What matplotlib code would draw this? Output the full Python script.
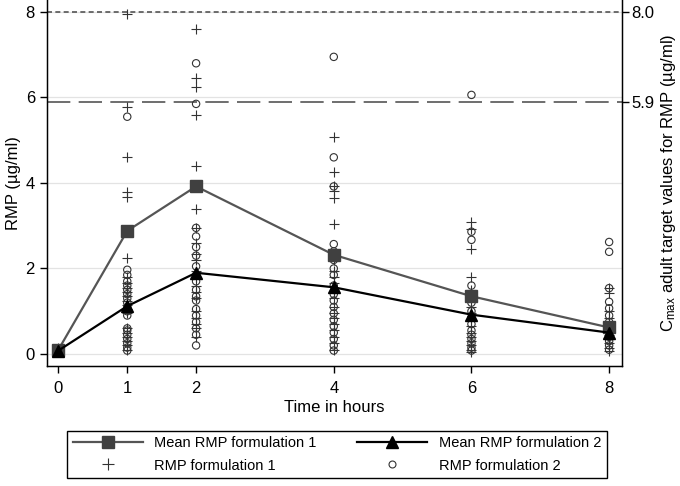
import matplotlib
matplotlib.use("Agg")
import matplotlib.pyplot as plt
import numpy as np

plt.rcParams['font.family'] = ['Liberation Sans', 'DejaVu Sans']
plt.rcParams['mathtext.default'] = 'regular'

# sampling times (hours)
times = [0, 1, 2, 4, 6, 8]

# mean concentrations
mean_f1 = [0.10, 2.88, 3.92, 2.32, 1.35, 0.62]
mean_f2 = [0.08, 1.12, 1.90, 1.56, 0.92, 0.50]

# individual concentrations, formulation 1 (crosses)
f1_points = {
    0: [0.05, 0.08, 0.10, 0.12, 0.15, 0.06, 0.10],
    1: [7.95, 5.78, 4.60, 3.80, 3.68, 2.25, 1.80, 1.65, 1.55, 1.45, 1.35, 1.25,
        1.15, 1.05, 0.95, 0.60, 0.50, 0.40, 0.30, 0.20, 0.10],
    2: [7.60, 6.45, 6.25, 5.60, 4.40, 3.40, 2.95, 2.60, 2.35, 2.20, 1.95, 1.80,
        1.60, 1.45, 1.30, 1.00, 0.85, 0.70, 0.60, 0.40],
    4: [5.07, 4.25, 3.92, 3.82, 3.65, 3.05, 2.35, 2.20, 1.95, 1.80, 1.65, 1.45,
        1.30, 1.10, 0.95, 0.85, 0.70, 0.55, 0.40, 0.25, 0.10],
    6: [3.08, 2.92, 2.45, 1.80, 1.50, 1.30, 1.10, 0.95, 0.80, 0.65, 0.50, 0.40,
        0.30, 0.20, 0.10, 0.05],
    8: [1.54, 1.42, 1.00, 0.85, 0.70, 0.55, 0.45, 0.35, 0.25, 0.15, 0.08],
}

# individual concentrations, formulation 2 (circles)
f2_points = {
    0: [0.05, 0.08, 0.10, 0.13, 0.07],
    1: [5.55, 1.97, 1.85, 1.70, 1.60, 1.50, 1.40, 1.30, 1.20, 1.10, 1.00, 0.90,
        0.60, 0.55, 0.45, 0.35, 0.25, 0.15, 0.08],
    2: [6.80, 5.85, 2.95, 2.75, 2.50, 2.30, 2.05, 1.85, 1.70, 1.50, 1.35, 1.25,
        1.05, 0.90, 0.75, 0.60, 0.45, 0.20],
    4: [6.95, 4.60, 3.92, 2.57, 2.40, 2.20, 2.00, 1.85, 1.60, 1.40, 1.25, 1.10,
        0.95, 0.80, 0.65, 0.50, 0.35, 0.20, 0.08],
    6: [6.06, 2.86, 2.67, 1.60, 1.40, 1.20, 1.00, 0.85, 0.70, 0.55, 0.45, 0.35,
        0.25, 0.15, 0.08],
    8: [2.62, 2.39, 1.54, 1.22, 1.07, 0.90, 0.75, 0.60, 0.50, 0.40, 0.30, 0.20, 0.10],
}

# adult Cmax target values
targets = [8.0, 5.9]
target_labels = ['8.0', '5.9']

fig = plt.figure(figsize=(6.8, 4.86), dpi=100)
ax = fig.add_axes([0.0687, 0.247, 0.8453, 0.753])

ax.set_xlim(-0.17, 8.18)
ax.set_ylim(-0.28, 8.28)

for g in [0, 2, 4, 6, 8]:
    ax.axhline(g, color='#e3e3e3', lw=0.9, zorder=0)

ax.axhline(targets[0], color='#555555', lw=1.2, ls=(0, (3, 2)), zorder=1)
ax.axhline(targets[1], color='#555555', lw=1.2, ls=(0, (14, 5)), zorder=1)

for t in times:
    ax.scatter([t] * len(f1_points[t]), f1_points[t], marker='+', s=50,
               color='#333333', linewidths=0.8, zorder=3)
    ax.scatter([t] * len(f2_points[t]), f2_points[t], marker='o', s=28,
               facecolors='none', edgecolors='#333333', linewidths=0.8, zorder=3)

l1, = ax.plot(times, mean_f1, color='#555555', lw=1.6, marker='s', ms=8,
              mfc='#404040', mec='#404040', zorder=4)
l2, = ax.plot(times, mean_f2, color='black', lw=1.6, marker='^', ms=8,
              mfc='black', mec='black', zorder=4)

ax.set_xticks(times)
ax.set_yticks([0, 2, 4, 6, 8])
ax.tick_params(axis='both', labelsize=12, length=5, width=1, direction='out')
ax.tick_params(axis='x', pad=6)
ax.set_xlabel('Time in hours', fontsize=12, labelpad=3)
ax.set_ylabel('RMP (µg/ml)', fontsize=12, labelpad=3)

ax.spines['top'].set_visible(False)
for s in ['left', 'bottom', 'right']:
    ax.spines[s].set_linewidth(1.0)

ax2 = ax.twinx()
ax2.set_ylim(ax.get_ylim())
ax2.set_yticks(targets)
ax2.set_yticklabels(target_labels)
ax2.tick_params(axis='y', labelsize=12, length=5, width=1, pad=2)
ax2.spines['top'].set_visible(False)
ax2.set_ylabel('C$_{max}$ adult target values for RMP (µg/ml)', fontsize=12, labelpad=3)

h_cross = plt.Line2D([], [], ls='none', marker='+', ms=8, mew=0.8, color='#333333')
h_circ = plt.Line2D([], [], ls='none', marker='o', ms=5, mew=0.8, mfc='none', mec='#333333')

leg = fig.legend([l1, h_cross, l2, h_circ],
                 ['Mean RMP formulation 1', 'RMP formulation 1',
                  'Mean RMP formulation 2', 'RMP formulation 2'],
                 loc='center', bbox_to_anchor=(0.0985, 0.0144, 0.794, 0.1008),
                 mode='expand', ncol=2, fontsize=10.5, handlelength=4.8,
                 fancybox=False, framealpha=1, edgecolor='black',
                 borderaxespad=0, labelspacing=0.55)
leg.get_frame().set_linewidth(1.0)

fig.savefig('out.png', dpi=100)
